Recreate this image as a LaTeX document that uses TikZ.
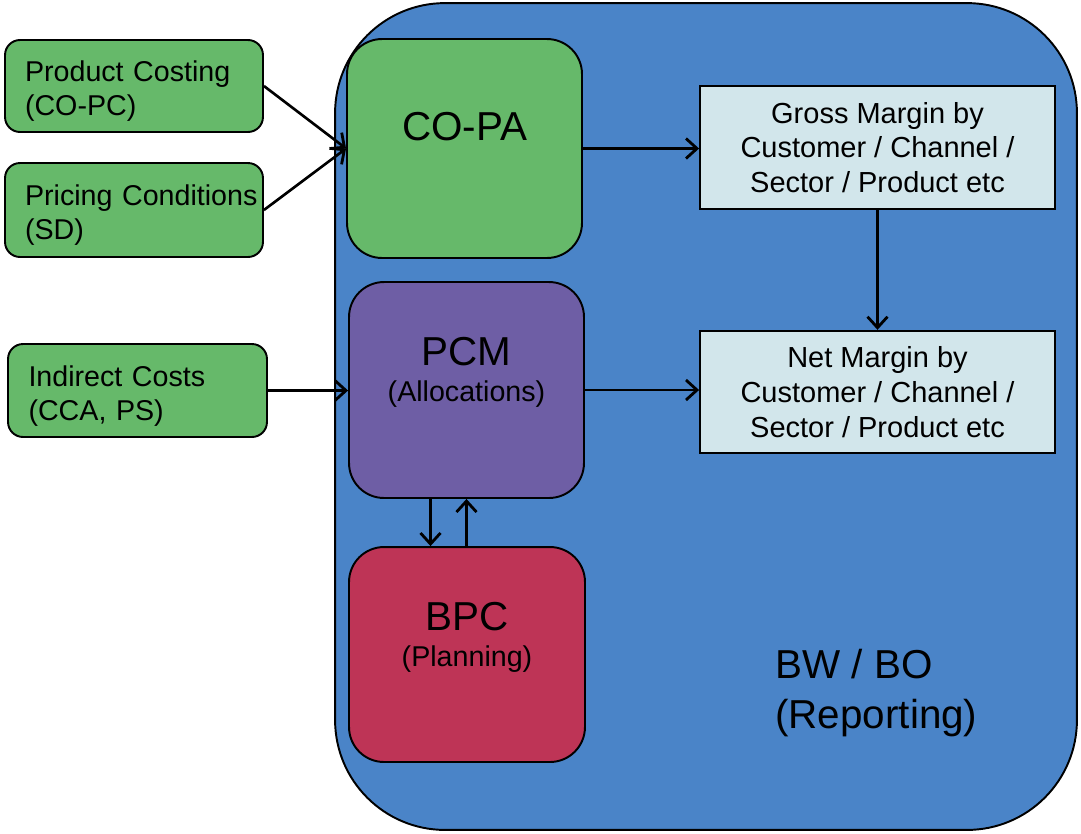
\documentclass[tikz,border=0pt]{standalone}
\usepackage{fontspec}
\setmainfont{Liberation Sans}
\usetikzlibrary{arrows.meta}

\definecolor{bwblue}{RGB}{74,132,200}
\definecolor{srcgreen}{RGB}{102,185,106}
\definecolor{pcmpurple}{RGB}{110,94,165}
\definecolor{bpcred}{RGB}{190,52,86}
\definecolor{marginfill}{RGB}{210,230,235}

\tikzset{
  srcbox/.style={draw, line width=1.1pt, fill=srcgreen, rounded corners=0.3cm,
    minimum width=5.16cm, text width=4.36cm, inner xsep=0.4cm, align=left,
    font=\fontsize{16.3}{19.4}\selectfont, execute at begin node=\rule{0pt}{18pt}},
  modbox/.style={draw, line width=1.1pt, rounded corners=0.7cm,
    minimum width=4.7cm, minimum height=4.32cm},
  marginbox/.style={draw, line width=1.1pt, fill=marginfill,
    minimum width=7.1cm, minimum height=2.45cm, align=center,
    font=\fontsize{16.5}{19.8}\selectfont, execute at begin node=\rule{0pt}{16pt}},
  bigtext/.style={font=\fontsize{23}{28}\selectfont},
  smalltext/.style={font=\fontsize{16.3}{19.6}\selectfont},
  flow/.style={line width=1.5pt, -{Straight Barb[length=0.22cm, width=0.4cm, line width=1.6pt]}}
}

\begin{document}
\begin{tikzpicture}[x=0.02cm, y=-0.02cm]
    \useasboundingbox (0, 0) rectangle (1081, 833);
    \node[draw, line width=1.1pt, fill=bwblue, rounded corners=2.2cm,
      minimum width=14.84cm, minimum height=16.54cm] (bw) at (706, 416.5) {};
    \node[bigtext, anchor=west, align=left, inner sep=0pt,
      font=\fontsize{23}{28.3}\selectfont] (bwtext) at (775, 693) {BW / BO\\(Reporting)};

    \node[srcbox, minimum height=1.84cm] (pc) at (134, 86) {Product Costing\\(CO-PC)};
    \node[srcbox, minimum height=1.88cm] (prc) at (134, 210) {\mbox{Pricing Conditions}\\(SD)};
    \node[srcbox, minimum height=1.86cm, minimum width=5.18cm] (ind) at (137.5, 390.5) {Indirect Costs\\(CCA, PS)};

    \node[modbox, fill=srcgreen, minimum height=4.38cm] (copa) at (464.5, 148.5) {};
    \node[modbox, fill=pcmpurple] (pcm) at (466.5, 390) {};
    \node[modbox, fill=bpcred, minimum width=4.72cm, minimum height=4.3cm] (bpc) at (467, 654.5) {};
    \node[bigtext] (copat) at (464.5, 127) {CO-PA};
    \node[bigtext] (pcmt) at (466.5, 352) {PCM};
    \node[smalltext] (pcms) at (466.5, 394) {(Allocations)};
    \node[bigtext] (bpct) at (467, 617) {BPC};
    \node[smalltext] (bpcs) at (467, 659) {(Planning)};

    \node[marginbox] (gm) at (877.5, 147.5) {Gross Margin by\\Customer / Channel /\\Sector / Product etc};
    \node[marginbox] (nm) at (877.5, 392) {Net Margin by\\Customer / Channel /\\Sector / Product etc};

    \draw[flow] (pc.east) -- (copa.west);
    \draw[flow] (prc.east) -- (copa.west);
    \draw[flow] (ind.east) -- (ind.east -| pcm.west);
    \draw[flow] (copa.east) -- (copa.east -| gm.west);
    \draw[flow] (pcm.east) -- (pcm.east -| nm.west);
    \draw[flow] (gm.south) -- (nm.north);
    \draw[flow] ([xshift=-0.72cm]pcm.south) -- ([xshift=-0.72cm]pcm.south |- bpc.north);
    \draw[flow] (pcm.south |- bpc.north) -- (pcm.south);
  \end{tikzpicture}
\end{document}
